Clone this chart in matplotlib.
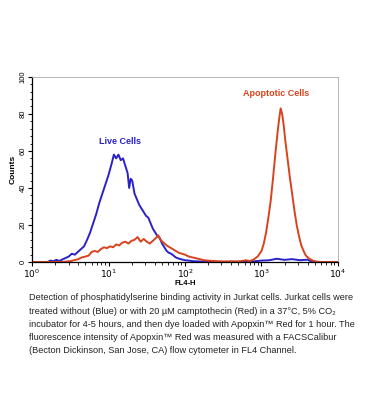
import matplotlib
matplotlib.use("Agg")
import matplotlib.pyplot as plt
from matplotlib.ticker import MultipleLocator, LogLocator, NullFormatter, FixedLocator
import numpy as np

plt.rcParams['font.family'] = ['Liberation Sans', 'DejaVu Sans']

# log10(FL4-H) positions and counts
blue_log = [0.00, 0.20, 0.24, 0.28, 0.32, 0.36, 0.40, 0.44, 0.48, 0.52, 0.56, 0.60, 0.64, 0.68,
            0.72, 0.76, 0.80, 0.84, 0.88, 0.92, 0.96, 1.00, 1.04, 1.07, 1.10, 1.13, 1.16, 1.19,
            1.22, 1.25, 1.27, 1.29, 1.31, 1.34, 1.37, 1.40, 1.43, 1.46, 1.49, 1.52, 1.55, 1.58,
            1.61, 1.64, 1.67, 1.70, 1.73, 1.76, 1.79, 1.82, 1.85, 1.88, 1.91, 1.95, 2.00, 2.05,
            2.10, 2.20, 2.30, 2.50, 2.70, 2.90, 3.00, 3.10, 3.20, 3.30, 3.40, 3.50, 3.60, 3.65,
            3.70, 3.80, 4.00]
blue_counts = [0, 0, 0.8, 0.5, 1.2, 0.6, 1.5, 2.2, 3.0, 4.5, 4.0, 5.5, 7.0, 8.5,
               12, 16, 21, 26, 32, 37, 42, 47, 53, 58, 56, 58, 55, 56,
               52, 48, 40, 45, 44, 37, 34, 31, 29, 27, 25, 24, 21, 18,
               16, 14, 13, 10, 8, 6, 5, 4.5, 3.5, 2.5, 2.0, 1.5, 1.0, 0.8,
               0.5, 0.3, 0.2, 0.1, 0.2, 0.4, 0.8, 1.0, 1.8, 1.2, 1.6, 1.0, 1.3, 0.4,
               0.1, 0, 0]

red_log = [0.00, 0.40, 0.50, 0.55, 0.60, 0.65, 0.70, 0.74, 0.78, 0.82, 0.86, 0.90, 0.94, 0.98,
           1.02, 1.06, 1.10, 1.14, 1.18, 1.22, 1.26, 1.30, 1.34, 1.38, 1.42, 1.46, 1.50, 1.54,
           1.58, 1.62, 1.65, 1.68, 1.72, 1.76, 1.80, 1.84, 1.88, 1.92, 1.96, 2.00, 2.05, 2.10,
           2.15, 2.20, 2.25, 2.30, 2.40, 2.50, 2.60, 2.70, 2.80, 2.85, 2.90, 2.95, 3.00, 3.03,
           3.06, 3.09, 3.12, 3.15, 3.18, 3.21, 3.23, 3.25, 3.27, 3.29, 3.31, 3.34, 3.37, 3.40,
           3.43, 3.46, 3.49, 3.52, 3.55, 3.58, 3.62, 3.66, 3.70, 3.75, 3.80, 4.00]
red_counts = [0, 0.1, 0.5, 1.0, 1.5, 2.5, 3.0, 3.5, 5.5, 6.0, 5.5, 7.0, 8.0, 7.5,
              8.5, 8.0, 9.5, 9.0, 10.5, 11.0, 10.0, 11.5, 12.0, 13.5, 11.0, 12.5, 11.0, 10.0,
              11.5, 13.0, 14.5, 12.0, 10.5, 9.0, 8.0, 7.0, 6.0, 5.0, 4.5, 4.0, 3.0, 2.5,
              2.0, 1.5, 1.0, 0.8, 0.5, 0.3, 0.4, 0.3, 1.0, 0.5, 1.5, 3.0, 6.0, 10,
              16, 24, 33, 45, 58, 70, 77, 83, 80, 74, 66, 56, 46, 37,
              28, 20, 14, 9, 6, 3.5, 2, 1.0, 0.4, 0.1, 0, 0]

x_ticks = [1, 10, 100, 1000, 10000]
x_ticklabels = [r'$10^0$', r'$10^1$', r'$10^2$', r'$10^3$', r'$10^4$']
y_ticks = [0, 20, 40, 60, 80, 100]

caption_lines = [
    "Detection of phosphatidylserine binding activity in Jurkat cells. Jurkat cells were",
    "treated without (Blue) or with 20 \u00b5M camptothecin (Red) in a 37\u00b0C, 5% CO\u2082",
    "incubator for 4-5 hours, and then dye loaded with Apopxin\u2122 Red for 1 hour. The",
    "fluorescence intensity of Apopxin\u2122 Red was measured with a FACSCalibur",
    "(Becton Dickinson, San Jose, CA) flow cytometer in FL4 Channel.",
]

blue_c = '#2a22c8'
red_c = '#d8431e'

fig = plt.figure(figsize=(3.7, 4.2), dpi=100)
ax = fig.add_axes([0.0865, 0.376, 0.827, 0.441])

ax.plot(10 ** np.array(blue_log), blue_counts, color=blue_c, lw=1.4, solid_joinstyle='round')
ax.plot(10 ** np.array(red_log), red_counts, color=red_c, lw=1.4, solid_joinstyle='round')

ax.set_xscale('log')
ax.set_xlim(1, 10000)
ax.set_ylim(0, 100)
ax.xaxis.set_major_locator(FixedLocator(x_ticks))
ax.set_xticklabels(x_ticklabels)
ax.xaxis.set_minor_locator(LogLocator(base=10, subs=np.arange(2, 10)))
ax.xaxis.set_minor_formatter(NullFormatter())
ax.set_yticks(y_ticks)
ax.set_yticklabels([str(v) for v in y_ticks], rotation=90, va='center', fontsize=5.5)
ax.yaxis.set_minor_locator(MultipleLocator(4))
ax.tick_params(axis='x', labelsize=6.5, pad=1, length=3, width=0.8)
ax.tick_params(axis='y', pad=1, length=3, width=0.8)
ax.tick_params(which='minor', length=1.8, width=0.6)
for s in ['top', 'right']:
    ax.spines[s].set_color('#aaaaaa')
    ax.spines[s].set_linewidth(0.6)
for s in ['left', 'bottom']:
    ax.spines[s].set_linewidth(0.9)

ax.set_ylabel('Counts', fontsize=6, fontweight='bold', labelpad=2)
ax.set_xlabel('FL4-H', fontsize=5.5, fontweight='bold', labelpad=0)

ax.text(10 ** 1.15, 65, 'Live Cells', color=blue_c, fontsize=6.5, fontweight='bold', ha='center', va='center')
ax.text(10 ** 3.19, 91, 'Apoptotic Cells', color=red_c, fontsize=6.5, fontweight='bold', ha='center', va='center')

for i, line in enumerate(caption_lines):
    fig.text(29 / 370, 1 - (298 + i * 13.2) / 420, line, fontsize=6.6, ha='left', va='center', color='#222222')

fig.savefig('out.png', dpi=100)
